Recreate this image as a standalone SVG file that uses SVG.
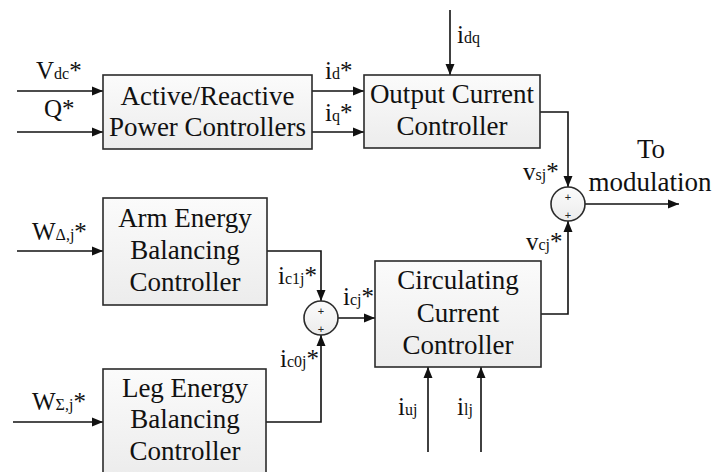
<svg xmlns="http://www.w3.org/2000/svg" width="713" height="472" viewBox="0 0 713 472">
<style>
  .box { fill: url(#g); stroke: #2b2b2b; stroke-width: 1.6; }
  .sum { fill: url(#g); stroke: #2b2b2b; stroke-width: 1.6; }
  .bt { font-family: "Liberation Serif", "Times New Roman", serif; font-size: 27px; fill: #111; text-anchor: middle; }
  .lbl { font-family: "Liberation Serif", "Times New Roman", serif; font-size: 25px; fill: #111; }
  .sub { font-size: 16px; }
  .pl { font-family: "Liberation Sans", Arial, sans-serif; font-size: 11px; fill: #222; text-anchor: middle; }
  .ln { fill: none; stroke: #111; stroke-width: 1.6; }
  .arr { marker-end: url(#ah); }
</style>
<defs>
  <linearGradient id="g" x1="0" y1="0" x2="0" y2="1">
    <stop offset="0" stop-color="#fbfbfb"/>
    <stop offset="1" stop-color="#ececec"/>
  </linearGradient>
  <marker id="ah" markerUnits="userSpaceOnUse" markerWidth="12" markerHeight="10" refX="11" refY="5" orient="auto">
    <path d="M0,0.5 L11,5 L0,9.5 z" fill="#111"/>
  </marker>
</defs>
<rect width="713" height="472" fill="#fff"/>

<g id="connectors">
  <path class="ln arr" d="M17,91 H103"/>
  <path class="ln arr" d="M17,132 H103"/>
  <path class="ln arr" d="M312,91 H364"/>
  <path class="ln arr" d="M312,132 H364"/>
  <path class="ln arr" d="M450,10 V75"/>
  <path class="ln arr" d="M540,112 H568 V187"/>
  <path class="ln arr" d="M541,314 H568 V221"/>
  <path class="ln arr" d="M585,204 H679"/>
  <path class="ln arr" d="M17,251 H103"/>
  <path class="ln arr" d="M267,251 H321 V301"/>
  <path class="ln arr" d="M13,422 H103"/>
  <path class="ln arr" d="M266,422 H321 V335"/>
  <path class="ln arr" d="M338,318 H375"/>
  <path class="ln arr" d="M428,452 V367"/>
  <path class="ln arr" d="M481,452 V367"/>
</g>

<g id="power-controllers">
  <rect class="box" x="103" y="75" width="209" height="74"/>
  <text class="bt" x="207.5" y="105">Active/Reactive</text>
  <text class="bt" x="207.5" y="136">Power Controllers</text>
</g>

<g id="output-current-controller">
  <rect class="box" x="364" y="75" width="176" height="73"/>
  <text class="bt" x="452" y="103">Output Current</text>
  <text class="bt" x="452" y="135">Controller</text>
</g>

<g id="arm-energy-controller">
  <rect class="box" x="103" y="198" width="164" height="107"/>
  <text class="bt" x="185" y="227">Arm Energy</text>
  <text class="bt" x="185" y="259">Balancing</text>
  <text class="bt" x="185" y="291">Controller</text>
</g>

<g id="leg-energy-controller">
  <rect class="box" x="103" y="369" width="163" height="107"/>
  <text class="bt" x="185" y="397">Leg Energy</text>
  <text class="bt" x="185" y="428">Balancing</text>
  <text class="bt" x="185" y="460">Controller</text>
</g>

<g id="circulating-current-controller">
  <rect class="box" x="375" y="261" width="166" height="106"/>
  <text class="bt" x="458" y="289">Circulating</text>
  <text class="bt" x="458" y="322">Current</text>
  <text class="bt" x="458" y="354">Controller</text>
</g>

<g id="sum-output">
  <circle class="sum" cx="568" cy="204" r="17"/>
  <text class="pl" x="568" y="201">+</text>
  <text class="pl" x="568" y="219">+</text>
</g>

<g id="sum-circulating">
  <circle class="sum" cx="321" cy="318" r="17"/>
  <text class="pl" x="321" y="315">+</text>
  <text class="pl" x="321" y="333">+</text>
</g>

<g id="labels">
  <text class="lbl" x="36" y="79">V<tspan class="sub">dc</tspan>*</text>
  <text class="lbl" x="44" y="117">Q*</text>
  <text class="lbl" x="325" y="79">i<tspan class="sub">d</tspan>*</text>
  <text class="lbl" x="325" y="121">i<tspan class="sub">q</tspan>*</text>
  <text class="lbl" x="457" y="43">i<tspan class="sub">dq</tspan></text>
  <text class="lbl" x="523" y="180">v<tspan class="sub">sj</tspan>*</text>
  <text class="lbl" x="526" y="250">v<tspan class="sub">cj</tspan>*</text>
  <text class="bt" x="651" y="158">To</text>
  <text class="bt" x="650" y="191">modulation</text>
  <text class="lbl" x="32" y="240">W<tspan class="sub">Δ,j</tspan>*</text>
  <text class="lbl" x="32" y="410">W<tspan class="sub">Σ,j</tspan>*</text>
  <text class="lbl" x="278" y="284">i<tspan class="sub">c1j</tspan>*</text>
  <text class="lbl" x="343" y="305">i<tspan class="sub">cj</tspan>*</text>
  <text class="lbl" x="280" y="367">i<tspan class="sub">c0j</tspan>*</text>
  <text class="lbl" x="398" y="415">i<tspan class="sub">uj</tspan></text>
  <text class="lbl" x="457" y="415">i<tspan class="sub">lj</tspan></text>
</g>
</svg>
